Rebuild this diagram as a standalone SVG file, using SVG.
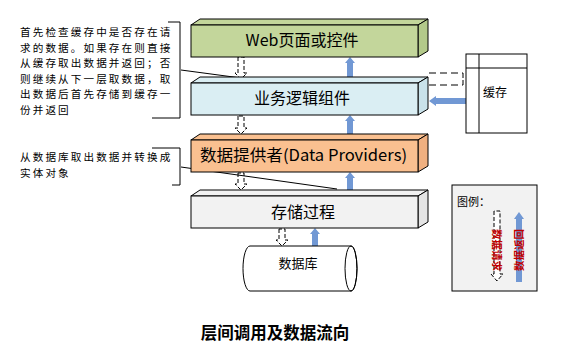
<svg xmlns="http://www.w3.org/2000/svg" width="561" height="359" viewBox="0 0 561 359">
<style>
text{font-family:"Noto Sans CJK SC","Liberation Sans",sans-serif;fill:#000}
.box{stroke:#000;stroke-width:1}
.ln{fill:none;stroke:#000;stroke-width:1}
.dash{fill:#fff;stroke:#000;stroke-width:1;stroke-dasharray:4 2}
.blue{fill:#7198d4;stroke:none}
.lbl{font-size:16px;text-anchor:middle}
.note{font-size:10.6px;letter-spacing:2.1px}
.leg{font-size:10.5px;font-weight:bold;fill:#c00000;text-anchor:middle}
</style>
<rect width="561" height="359" fill="#fff"/>

<g id="connectors">
  <path class="dash" d="M238,57 V73 H235 L241,79 L247,73 H244 V57 Z"/>
  <path class="dash" d="M238,116 V128 H235 L241,134 L247,128 H244 V116 Z"/>
  <path class="dash" d="M238,173 V184 H235 L241,190 L247,184 H244 V173 Z"/>
  <path class="dash" d="M279,229 V240 H276 L282,246 L288,240 H285 V229 Z"/>
  <path class="blue" d="M347,77 V63 H345 L350,57 L355,63 H353 V77 Z"/>
  <path class="blue" d="M347,134 V121 H345 L350,115 L355,121 H353 V134 Z"/>
  <path class="blue" d="M347,190 V178 H345 L350,172 L355,178 H353 V190 Z"/>
  <path class="blue" d="M312,246 V234 H310 L315,228 L320,234 H318 V246 Z"/>
  <path class="ln" d="M429,73 H463 V78 M429,85 H463 V80" stroke-dasharray="7 4"/>
  <path class="blue" d="M466,98 H436 V96 L429,101 L436,106 V104 H466 Z"/>
  <path class="ln" d="M181,70 L241,78"/>
  <path class="ln" d="M181,167 L337,189"/>
</g>

<g id="web">
  <path class="box" fill="#c3d69b" d="M191,25 L200,19 H428 L418,25 Z"/>
  <path class="box" fill="#b3c98a" d="M418,25 L428,19 V51 L418,57 Z"/>
  <rect class="box" fill="#c3d69b" x="191" y="25" width="227" height="32"/>
  <text class="lbl" x="302" y="46" font-size="15.5">Web页面或控件</text>
</g>

<g id="business">
  <path class="box" fill="#daeef3" d="M191,83 L200,77 H428 L418,83 Z"/>
  <path class="box" fill="#c9e2ea" d="M418,83 L428,77 V109 L418,115 Z"/>
  <rect class="box" fill="#daeef3" x="191" y="83" width="227" height="32"/>
  <text class="lbl" x="302" y="104">业务逻辑组件</text>
</g>

<g id="provider">
  <path class="box" fill="#fac090" d="M191,140 L200,134 H428 L418,140 Z"/>
  <path class="box" fill="#f0b080" d="M418,140 L428,134 V166 L418,172 Z"/>
  <rect class="box" fill="#fac090" x="191" y="140" width="227" height="32"/>
  <text x="200" y="161" font-size="16" textLength="207" lengthAdjust="spacingAndGlyphs">数据提供者(Data Providers)</text>
</g>

<g id="storedproc">
  <path class="box" fill="#f2f2f2" d="M191,196 L200,190 H428 L418,196 Z"/>
  <path class="box" fill="#e4e4e4" d="M418,196 L428,190 V222 L418,228 Z"/>
  <rect class="box" fill="#f2f2f2" x="191" y="196" width="227" height="32"/>
  <text class="lbl" x="303" y="218">存储过程</text>
</g>

<g id="database">
  <path class="box" fill="#fff" d="M250,246 H351 A6,22.5 0 0 1 351,291 H250 A7,22.5 0 0 1 250,246 Z"/>
  <ellipse class="ln" cx="351" cy="268.5" rx="6" ry="22.5"/>
  <text x="298" y="268" font-size="13" text-anchor="middle">数据库</text>
</g>

<g id="cache">
  <rect class="box" fill="#fff" x="466" y="54" width="61" height="79"/>
  <path class="ln" d="M479,54 V133 M466,68 H527"/>
  <text x="483" y="97" font-size="12">缓存</text>
</g>

<g id="note1">
  <path class="ln" d="M168,22 H180 V118 H152"/>
  <text class="note" x="20" y="36">首先检查缓存中是否存在请</text>
  <text class="note" x="20" y="51.5">求的数据。如果存在则直接</text>
  <text class="note" x="20" y="67">从缓存取出数据并返回；否</text>
  <text class="note" x="20" y="82.5">则继续从下一层取数据，取</text>
  <text class="note" x="20" y="98">出数据后首先存储到缓存一</text>
  <text class="note" x="20" y="113.5">份并返回</text>
</g>

<g id="note2">
  <path class="ln" d="M152,148 H180 V185 H172"/>
  <text class="note" x="20" y="161">从数据库取出数据并转换成</text>
  <text class="note" x="20" y="177">实体对象</text>
</g>

<g id="legend">
  <rect x="452" y="185" width="85" height="106" fill="#f2f2f2" stroke="#000"/>
  <text x="457" y="206" font-size="11">图例：</text>
  <path class="dash" d="M494,211 V274 H491 L497,281 L503,274 H500 V211 Z" fill="none"/>
  <path class="blue" d="M516,282 V219 H514 L519,212 L524,219 H522 V282 Z"/>
  <text class="leg" transform="translate(493,250) rotate(90)">数据请求</text>
  <text class="leg" transform="translate(523,250) rotate(-90)">数据返回</text>
</g>

<text x="275" y="339" font-size="16.5" font-weight="bold" text-anchor="middle">层间调用及数据流向</text>
</svg>
